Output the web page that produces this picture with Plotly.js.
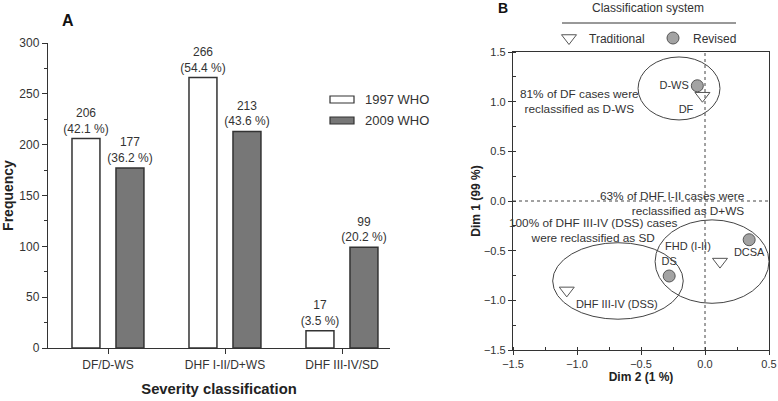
<!DOCTYPE html>
<html><head><meta charset="utf-8">
<script src="https://cdn.plot.ly/plotly-3.0.1.min.js"></script>
<style>html,body{margin:0;padding:0;background:#fff}#chart{width:778px;height:401px}</style>
</head><body><div id="chart"></div>
<script>
// Panel A data
const categories = ['DF/D-WS', 'DHF I-II/D+WS', 'DHF III-IV/SD'];
const who1997 = [206, 266, 17];
const pct1997 = [42.1, 54.4, 3.5];
const who2009 = [177, 213, 99];
const pct2009 = [36.2, 43.6, 20.2];
const seriesNames = ['1997 WHO', '2009 WHO'];

// Panel B data
const tradLabels = ['DF', 'FHD (I-II)', 'DHF III-IV (DSS)'];
const tradX = [-0.02, 0.117, -1.08];
const tradY = [1.06, -0.61, -0.90];
const revLabels = ['D-WS', 'DS', 'DCSA'];
const revX = [-0.06, -0.28, 0.345];
const revY = [1.16, -0.755, -0.39];

const FONT = 'Liberation Sans, Arial, sans-serif';
const INK = '#333';

const mkText = (v, p) => v.map((n, i) => n + '<br>(' + p[i] + ' %)');

const traces = [
  {type: 'bar', x: categories, y: who1997, name: seriesNames[0], xaxis: 'x', yaxis: 'y',
   width: 0.239, offset: -0.308, marker: {color: '#fff', line: {color: INK, width: 1.5}},
   text: mkText(who1997, pct1997), textposition: 'outside', cliponaxis: false, constraintext: 'none',
   textfont: {family: FONT, size: 12, color: INK}, showlegend: false, hoverinfo: 'x+y'},
  {type: 'bar', x: categories, y: who2009, name: seriesNames[1], xaxis: 'x', yaxis: 'y',
   width: 0.239, offset: 0.068, marker: {color: '#777', line: {color: INK, width: 1.5}},
   text: mkText(who2009, pct2009), textposition: 'outside', cliponaxis: false, constraintext: 'none',
   textfont: {family: FONT, size: 12, color: INK}, showlegend: false, hoverinfo: 'x+y'},
  {type: 'scatter', mode: 'markers+text', x: tradX, y: tradY, text: tradLabels, name: 'Traditional',
   xaxis: 'x2', yaxis: 'y2', legend: 'legend2',
   textposition: ['bottom left', 'top left', 'bottom right'],
   textfont: {family: FONT, size: 11, color: INK},
   marker: {symbol: 'triangle-down-open', size: 13, color: '#555', line: {width: 1}}, cliponaxis: false},
  {type: 'scatter', mode: 'markers+text', x: revX, y: revY, text: revLabels, name: 'Revised',
   xaxis: 'x2', yaxis: 'y2', legend: 'legend2',
   textposition: ['middle left', 'top center', 'bottom center'],
   textfont: {family: FONT, size: 11, color: INK},
   marker: {symbol: 'circle', size: 12, color: '#a3a3a3', line: {color: '#555', width: 1}}, cliponaxis: false}
];

const ellipses = [
  {x0: -0.523, x1: 0.117, y0: 0.816, y1: 1.45},
  {x0: -1.19, x1: -0.17, y0: -1.19, y1: -0.42},
  {x0: -0.39, x1: 0.5, y0: -1.03, y1: -0.19}
];

const shapes = ellipses.map(e => ({type: 'circle', xref: 'x2', yref: 'y2', x0: e.x0, x1: e.x1, y0: e.y0, y1: e.y1,
  line: {color: '#444', width: 1}}));
shapes.push(
  {type: 'line', xref: 'x2', yref: 'y2', x0: 0, x1: 0, y0: -1.5, y1: 1.5, line: {color: '#444', width: 1, dash: 'dot'}},
  {type: 'line', xref: 'x2', yref: 'y2', x0: -1.5, x1: 0.5, y0: 0, y1: 0, line: {color: '#444', width: 1, dash: 'dot'}},
  // legend B underline
  {type: 'line', xref: 'paper', yref: 'paper', x0: 562/778, x1: 736/778, y0: 1 - 23/401, y1: 1 - 23/401, line: {color: INK, width: 1}},
  // legend A boxes
  {type: 'rect', xref: 'paper', yref: 'paper', x0: 330/778, x1: 354/778, y0: 1 - 103/401, y1: 1 - 96/401, fillcolor: '#fff', line: {color: INK, width: 1.2}},
  {type: 'rect', xref: 'paper', yref: 'paper', x0: 330/778, x1: 354/778, y0: 1 - 124/401, y1: 1 - 117/401, fillcolor: '#777', line: {color: INK, width: 1.2}}
);

const ann = (o) => Object.assign({showarrow: false, xanchor: 'center', yanchor: 'middle', font: {family: FONT, size: 11.8, color: INK}}, o);
const annotations = [
  ann({xref: 'paper', yref: 'paper', x: 68/778, y: 1 - 20/401, text: '<b>A</b>', font: {family: FONT, size: 16, color: '#111'}}),
  ann({xref: 'paper', yref: 'paper', x: 503/778, y: 1 - 8/401, text: '<b>B</b>', font: {family: FONT, size: 14, color: '#111'}}),
  ann({xref: 'paper', yref: 'paper', x: 363/778, y: 1 - 99.5/401, xanchor: 'left', text: seriesNames[0], font: {family: FONT, size: 13, color: INK}}),
  ann({xref: 'paper', yref: 'paper', x: 363/778, y: 1 - 120.5/401, xanchor: 'left', text: seriesNames[1], font: {family: FONT, size: 13, color: INK}}),
  ann({xref: 'paper', yref: 'paper', x: 648/778, y: 1 - 8/401, text: 'Classification system', font: {family: FONT, size: 12, color: INK}}),
  ann({xref: 'x2', yref: 'y2', x: -0.98, y: 1.0, text: '81% of DF cases were<br>reclassified as D-WS'}),
  ann({xref: 'x2', yref: 'y2', x: 0.33, y: -0.03, xanchor: 'right', align: 'right', text: '63% of DHF I-II cases were<br>reclassified as D+WS'}),
  ann({xref: 'x2', yref: 'y2', x: -0.87, y: -0.3, text: '100% of DHF III-IV (DSS) cases<br>were reclassified as SD'})
];

const axisBase = {showgrid: false, zeroline: false, showline: true, linecolor: INK, linewidth: 1.2,
  ticks: 'outside', ticklen: 5, tickcolor: INK, tickfont: {family: FONT, size: 12, color: INK}};

const layout = {
  width: 778, height: 401, margin: {l: 0, r: 0, t: 0, b: 0, autoexpand: false},
  paper_bgcolor: '#fff', plot_bgcolor: '#fff',
  font: {family: FONT, color: INK},
  barmode: 'overlay',
  xaxis: Object.assign({}, axisBase, {domain: [48/778, 390/778], anchor: 'y', type: 'category',
    range: [-0.513, 2.41], automargin: false,
    title: {text: '<b>Severity classification</b>', font: {family: FONT, size: 14.8, color: '#222'}, standoff: 13}}),
  yaxis: Object.assign({}, axisBase, {domain: [(401-348)/401, (401-43)/401], anchor: 'x', range: [0, 300],
    dtick: 50, minor: {dtick: 25, ticks: 'outside', ticklen: 3, tickcolor: INK}, automargin: false,
    title: {text: '<b>Frequency</b>', font: {family: FONT, size: 14, color: '#222'}, standoff: 8}}),
  xaxis2: Object.assign({}, axisBase, {domain: [513/778, 769/778], anchor: 'y2', range: [-1.5, 0.5],
    dtick: 0.5, tickformat: '.1f', mirror: true, ticklen: 4, tickfont: {family: FONT, size: 11, color: INK}, automargin: false,
    minor: {dtick: 0.25, ticks: 'inside', ticklen: 3, tickcolor: INK},
    title: {text: '<b>Dim 2 (1 %)</b>', font: {family: FONT, size: 12, color: '#222'}, standoff: 3}}),
  yaxis2: Object.assign({}, axisBase, {domain: [(401-350)/401, (401-52)/401], anchor: 'x2', range: [-1.5, 1.5],
    dtick: 0.5, tickformat: '.1f', mirror: true, ticklen: 4, tickfont: {family: FONT, size: 11, color: INK}, automargin: false,
    minor: {dtick: 0.25, ticks: 'inside', ticklen: 3, tickcolor: INK},
    title: {text: '<b>Dim 1 (99 %)</b>', font: {family: FONT, size: 12, color: '#222'}, standoff: 0}}),
  legend2: {orientation: 'h', x: 549/778, y: 1 - 38/401, xanchor: 'left', yanchor: 'middle',
    font: {family: FONT, size: 12, color: INK}, bgcolor: 'rgba(0,0,0,0)', entrywidth: 59, entrywidthmode: 'pixels',
    itemclick: false, itemdoubleclick: false},
  shapes: shapes,
  annotations: annotations
};

Plotly.newPlot('chart', traces, layout, {displayModeBar: false, staticPlot: true});
</script></body></html>
